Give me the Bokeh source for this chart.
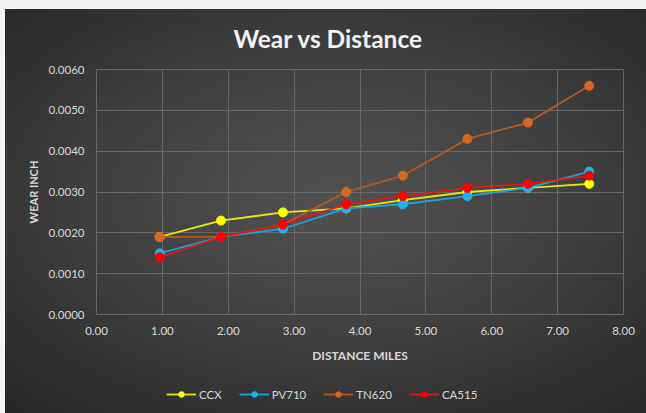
from bokeh.plotting import figure
from bokeh.embed import file_html
from bokeh.resources import INLINE
from bokeh.layouts import column
from bokeh.models import NumeralTickFormatter, FixedTicker, Range1d, Legend, LegendItem, InlineStyleSheet

# Data
distance = [0.96, 1.89, 2.83, 3.79, 4.65, 5.63, 6.55, 7.48]
ccx = [0.0019, 0.0023, 0.0025, 0.0026, 0.0028, 0.0030, 0.0031, 0.0032]
pv710 = [0.0015, 0.0019, 0.0021, 0.0026, 0.0027, 0.0029, 0.0031, 0.0035]
tn620 = [0.0019, 0.0019, 0.0022, 0.0030, 0.0034, 0.0043, 0.0047, 0.0056]
ca515 = [0.0014, 0.0019, 0.0022, 0.0027, 0.0029, 0.0031, 0.0032, 0.0034]
series_names = ["CCX", "PV710", "TN620", "CA515"]
x_ticks = [0, 1, 2, 3, 4, 5, 6, 7, 8]
y_ticks = [0.0, 0.001, 0.002, 0.003, 0.004, 0.005, 0.006]

line_colors = ["#e8e800", "#1aa3dc", "#b85a1c", "#e01818"]
marker_colors = ["#ffff00", "#1fb0ee", "#d2691e", "#ff0000"]

FONT = "Lato"
TXT = "#d9d9d9"
GRID = "#686868"

css = InlineStyleSheet(css=""":host {
  background:
    linear-gradient(#f3f3f3, #f3f3f3) top left / 100% 9px no-repeat,
    linear-gradient(#f3f3f3, #f3f3f3) top left / 5px 100% no-repeat,
    radial-gradient(ellipse 75% 70% at 52% 48%, #525252 0%, #3d3d3d 55%, #262626 100%);
}""")

p = figure(width=646, height=375, output_backend="svg", toolbar_location=None,
           x_range=Range1d(0, 8), y_range=Range1d(0, 0.006),
           min_border_left=96, min_border_right=23, min_border_top=69, min_border_bottom=61)
p.border_fill_color = None
p.background_fill_color = None
p.outline_line_color = GRID
p.outline_line_width = 1

p.title.text = "Wear  vs Distance"
p.title.text_font = FONT
p.title.text_font_style = "bold"
p.title.text_font_size = "24.5px"
p.title.text_color = "#f2f2f2"
p.title.align = "left"
p.title.offset = 137
p.title.standoff = 34

for ax in (p.xaxis[0], p.yaxis[0]):
    ax.axis_line_color = None
    ax.major_tick_line_color = None
    ax.minor_tick_line_color = None
    ax.major_tick_out = 0
    ax.major_tick_in = 0
    ax.minor_tick_out = 0
    ax.minor_tick_in = 0
    ax.major_label_text_color = TXT
    ax.major_label_text_font = FONT
    ax.major_label_text_font_size = "11.5px"
    ax.axis_label_text_color = TXT
    ax.axis_label_text_font = FONT
    ax.axis_label_text_font_style = "bold"

p.xaxis.ticker = FixedTicker(ticks=x_ticks)
p.yaxis.ticker = FixedTicker(ticks=y_ticks)
p.xaxis.formatter = NumeralTickFormatter(format="0.00")
p.yaxis.formatter = NumeralTickFormatter(format="0.0000")
p.xaxis.axis_label = "DISTANCE MILES"
p.yaxis.axis_label = "WEAR INCH"
p.xaxis.axis_label_text_font_size = "12px"
p.yaxis.axis_label_text_font_size = "11px"
p.xaxis.major_label_standoff = 12
p.yaxis.major_label_standoff = 12
p.xaxis.axis_label_standoff = 10
p.yaxis.axis_label_standoff = 5

p.xgrid.grid_line_color = GRID
p.ygrid.grid_line_color = GRID
p.xgrid.ticker = FixedTicker(ticks=x_ticks)
p.ygrid.ticker = FixedTicker(ticks=y_ticks)

# legend strip: a small figure under the chart whose range shows none of the data
q = figure(width=646, height=38, output_backend="svg", toolbar_location=None,
           x_range=Range1d(100, 101), y_range=Range1d(100, 101),
           x_axis_type=None, y_axis_type=None,
           min_border_left=0, min_border_right=0, min_border_top=0, min_border_bottom=0)
q.border_fill_color = None
q.background_fill_color = None
q.outline_line_color = None
q.xgrid.visible = False
q.ygrid.visible = False

items = []
for name, ys, lc, mc in zip(series_names, [ccx, pv710, tn620, ca515], line_colors, marker_colors):
    p.line(distance, ys, line_color=lc, line_width=1.8)
    p.scatter(distance, ys, size=9, fill_color=mc, line_color=mc)
    r1 = q.line(distance, ys, line_color=lc, line_width=1.8)
    r2 = q.scatter(distance, ys, size=9, fill_color=mc, line_color=mc)
    items.append(LegendItem(label=name, renderers=[r1, r2]))

legend = Legend(items=items, orientation="horizontal", location=(70, 12),
                background_fill_alpha=0, border_line_color=None,
                label_text_color=TXT, label_text_font=FONT, label_text_font_size="11.5px",
                glyph_width=30, glyph_height=14, label_standoff=3, spacing=17,
                padding=4, margin=0)
q.add_layout(legend, "center")

layout = column(p, q, spacing=0, stylesheets=[css])
open("out.html", "w").write(file_html(layout, INLINE))
